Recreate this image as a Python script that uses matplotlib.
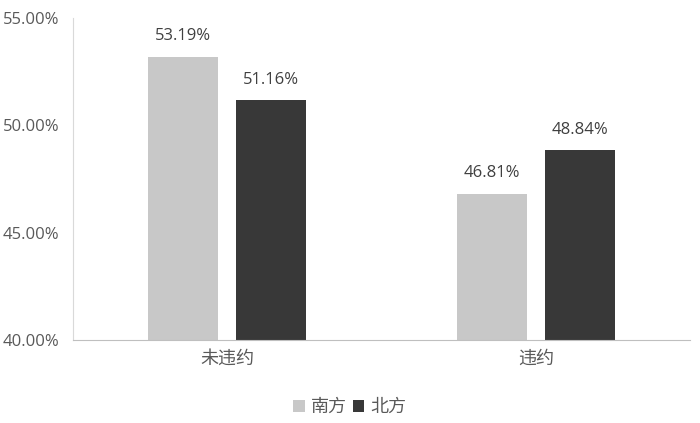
import matplotlib
matplotlib.use("Agg")
import matplotlib.pyplot as plt
import numpy as np
from matplotlib.ticker import FuncFormatter

plt.rcParams['font.family'] = ['Open Sans', 'Noto Sans CJK SC', 'DejaVu Sans']

categories = ['未违约', '违约']
series_names = ['南方', '北方']
south = [53.19, 46.81]
north = [51.16, 48.84]
yticks = [40, 45, 50, 55]

colors = ['#C8C8C8', '#383838']

fig = plt.figure(figsize=(7, 4.23), dpi=100)
ax = fig.add_axes([73/700, 1 - 340/423, 617/700, (340-18)/423])

x = np.arange(len(categories))
w = 0.227
off = 0.1426
b1 = ax.bar(x - off, south, w, color=colors[0], label=series_names[0])
b2 = ax.bar(x + off, north, w, color=colors[1], label=series_names[1])

for bars, vals in ((b1, south), (b2, north)):
    for rect, v in zip(bars, vals):
        ax.annotate(f'{v:.2f}%', (rect.get_x() + rect.get_width()/2, v),
                    xytext=(0, 9), textcoords='offset points',
                    ha='center', va='bottom', fontsize=12, color='#404040')

ax.set_ylim(40, 55)
ax.set_xlim(-0.5, 1.5)
ax.set_yticks(yticks)
ax.yaxis.set_major_formatter(FuncFormatter(lambda v, p: f'{v:.2f}%'))
ax.set_xticks(x)
ax.set_xticklabels(categories, family=['Noto Sans CJK SC', 'DejaVu Sans'], fontsize=13)
ax.tick_params(axis='both', length=0, labelcolor='#595959')
ax.tick_params(axis='y', labelsize=12, pad=10)
ax.tick_params(axis='x', pad=7)
for s in ['top', 'right']:
    ax.spines[s].set_visible(False)
ax.spines['left'].set_color('#D9D9D9')
ax.spines['bottom'].set_color('#BFBFBF')

leg = fig.legend(handles=[b1, b2], labels=series_names, loc='center',
                 bbox_to_anchor=(350/700, 1 - 407/423), ncol=2, frameon=False,
                 prop={'family': ['Noto Sans CJK SC', 'DejaVu Sans'], 'size': 13},
                 handlelength=0.65, handleheight=0.65, handletextpad=0.35, columnspacing=0.3,
                 labelcolor='#595959')

fig.savefig('out.png', dpi=100)
